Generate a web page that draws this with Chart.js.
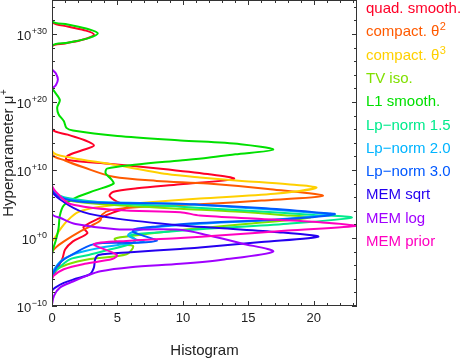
<!DOCTYPE html>
<html>
<head>
<meta charset="utf-8">
<script src="https://cdn.jsdelivr.net/npm/chart.js@4.4.1/dist/chart.umd.min.js"></script>
<style>
html, body { margin: 0; padding: 0; background: #fff; }
#wrap { width: 463px; height: 361px; position: relative; }
</style>
</head>
<body>
<div id="wrap"><canvas id="chartHist"></canvas></div>
<script>
// each point: [histogram count, log10(mu+)]
const seriesNames = ['quad. smooth.', 'compact. θ', 'compact. θ', 'TV iso.', 'L1 smooth.',
    'Lp−norm 1.5', 'Lp−norm 2.0', 'Lp−norm 3.0', 'MEM sqrt', 'MEM log', 'MEM prior'];
const seriesSups = ['', '2', '3', '', '', '', '', '', '', '', ''];
const seriesColors = ['#ff0028', '#ff5a00', '#ffd000', '#80e000', '#00e000',
    '#00eb8c', '#00b4ff', '#0058ff', '#2400f0', '#a000ff', '#ff00c0'];

const quadSmooth = [[0,35],[0,31.8],[1.2,31.1],[2.6,30.5],[3.2,29.9],[2.4,29.2],[1.0,28.6],[0,28.1],
    [0,16.1],[1.2,15.2],[2.6,14.3],[3.2,13.6],[2.3,12.9],[1.2,12.1],[1.1,11.5],[4.5,10.9],[8.3,10.2],
    [11.9,9.4],[13.9,8.7],[9.8,7.9],[6.5,7.3],[4.7,6.8],[4.4,6.2],[5.0,5.3],[5.8,4.6],[4.6,3.7],
    [3.5,2.8],[2.4,1.6],[2.7,0.7],[1.6,-0.5],[1.0,-1.7],[0.8,-3.0],[0.4,-4.5],[0,-6.0],[0,-10]];
const compact2 = [[0,35],[0,12.4],[1.0,11.4],[2.4,10.4],[4.7,9.0],[8,8.4],[11.9,8.0],[16.5,7.2],
    [20.7,6.2],[16,5.5],[11.6,5.0],[7,4.6],[4.5,4.1],[3.8,3.4],[3.7,2.6],[3.0,1.8],[2.0,0.8],
    [1.15,-0.2],[0.4,-1.2],[0.05,-1.9],[0,-2.3],[0,-10]];
const compact3 = [[0,35],[0,12.9],[1.5,11.8],[4.4,10.9],[8.8,9.4],[11.3,8.9],[14.5,8.4],[18,7.9],
    [20.2,7.4],[17,6.5],[11.3,5.8],[7,5.2],[3.7,4.6],[2.0,3.8],[1.2,2.6],[0.6,1.2],[0.2,0],
    [0,-0.6],[0,-10]];
const tvIso = [[0,35],[0,7.0],[0.6,6.0],[1.6,5.4],[5,4.8],[9.8,4.3],[14,3.9],[17.5,3.4],[19.7,3.0],
    [15,2.1],[10,1.2],[6.5,0.4],[4.8,-0.1],[5.2,-0.9],[6.2,-1.2],[5.7,-2.4],[2.9,-3.1],[1.15,-3.9],
    [0.1,-4.9],[0,-5.5],[0,-10]];
const l1Smooth = [[0,35],[0,31.9],[1.2,31.4],[2.8,30.7],[3.5,30.1],[2.8,29.4],[1.2,28.7],[0,28.2],
    [0,22.2],[0.2,21.5],[0.6,20.3],[0.4,19.2],[0.5,18.2],[0.9,17.2],[1.1,16.2],[1.6,15.8],[5,15.0],
    [9.8,14.35],[14.4,13.8],[16.9,13.0],[14,12.3],[11.9,11.8],[9.8,11.4],[6.5,10.8],[4.2,10.2],
    [4.1,9.5],[4.5,8.7],[4.7,8.0],[3.3,7.0],[1.9,6.0],[0.9,4.8],[0.6,3.3],[0.5,1.4],[0.3,-0.3],
    [0.1,-1.5],[0,-2.5],[0,-10]];
const lp15 = [[0,35],[0,7.1],[0.5,6.3],[1.4,5.8],[4,5.2],[9.8,4.6],[15,4.0],[20,3.4],[22.9,3.0],
    [18,2.1],[11.3,1.3],[8,0.8],[6,0.4],[6.4,-0.3],[5.8,-1.0],[4.4,-1.7],[2.8,-2.5],[1.4,-3.1],
    [0.4,-4.6],[0,-5.6],[0,-10]];
const lp20 = [[0,35],[0,7.2],[0.6,6.1],[2.4,5.4],[9.8,5.0],[15,4.4],[19.5,3.8],[21.3,3.5],[17,2.7],
    [11.3,2.1],[8,1.6],[6.5,1.1],[5.8,0.4],[6.4,-0.2],[7.0,-0.5],[5.5,-0.9],[3.5,-1.5],[1.8,-2.3],
    [0.8,-3.2],[0.2,-4.5],[0,-5.5],[0,-10]];
const lp30 = [[0,35],[0,7.3],[0.63,6.0],[2.4,5.3],[9.8,5.05],[11.3,4.9],[16,4.4],[20,3.8],[21.6,3.5],
    [18,2.8],[11.3,2.2],[8,1.7],[6.3,1.3],[6.2,0.9],[7.2,0.2],[8.0,-0.4],[6.5,-0.7],[3.2,-0.9],
    [1.4,-2.6],[0.63,-3.6],[0.1,-5.1],[0,-6.0],[0,-10]];
const memSqrt = [[0,35],[0,7.0],[0.9,5.3],[2.4,3.8],[4.95,2.85],[9.8,1.85],[12.5,1.5],[17,0.9],
    [20.35,0.2],[16,-0.6],[11.3,-1.4],[9.8,-1.6],[6,-2.1],[3.56,-2.5],[3.3,-3.1],[3.2,-4.35],
    [2.9,-5.3],[1.8,-6.0],[0.9,-6.6],[0.25,-7.3],[0,-7.8],[0,-10]];
const memLog = [[0,35],[0,24.9],[0.3,24.2],[0.45,23.3],[0.3,22.5],[0,21.8],[0,3.6],[0.7,2.9],
    [1.8,2.05],[4.9,1.3],[9.8,1.2],[11.9,0.4],[14.5,-0.8],[16.9,-2.0],[13,-3.2],[9.8,-3.8],
    [6,-4.3],[3.7,-4.9],[2.6,-5.6],[1.6,-6.4],[0.6,-7.3],[0.15,-8.5],[0,-9.8],[0,-10]];
const memPrior = [[0,35],[0,7.8],[0.6,6.2],[1.4,5.0],[4.95,4.1],[9.8,3.8],[11.3,3.3],[16,2.8],
    [20.5,2.3],[23.3,1.8],[18,1.1],[13,0.4],[9.8,0.0],[6,-0.4],[3.2,-0.9],[4.96,-2.5],[4.6,-3.1],
    [2.5,-3.8],[0.9,-4.6],[0.1,-5.6],[0,-6.2],[0,-10]];

const allSeries = [quadSmooth, compact2, compact3, tvIso, l1Smooth, lp15, lp20, lp30, memSqrt, memLog, memPrior];

const xMin = 0, xMax = 23.3;
const yMin = -10, yMax = 35;
const xTickValues = [0, 5, 10, 15, 20];
const xTickLabels = ['0', '5', '10', '15', '20'];
const yTickExps = [-10, 0, 10, 20, 30];
const yTickBase = '10';
const yTickSups = ['−10', '+0', '+10', '+20', '+30'];

const fontFam = '"Liberation Sans", Arial, Helvetica, sans-serif';
const textColor = '#222';

// text with a raised exponent; x is the left edge
function drawSup(ctx, base, sup, x, y, baseSize, supSize, rise) {
    ctx.font = baseSize + 'px ' + fontFam;
    ctx.fillText(base, x, y);
    const w = ctx.measureText(base).width;
    if (sup) {
        ctx.font = supSize + 'px ' + fontFam;
        ctx.fillText(sup, x + w + 0.5, y - rise);
    }
}
function supWidth(ctx, base, sup, baseSize, supSize) {
    ctx.font = baseSize + 'px ' + fontFam;
    let w = ctx.measureText(base).width;
    if (sup) {
        ctx.font = supSize + 'px ' + fontFam;
        w += ctx.measureText(sup).width + 0.5;
    }
    return w;
}

// frame, inward ticks, y labels, y title and coloured legend text
const frameTicks = {
    id: 'frameTicks',
    afterDatasetsDraw(chart) {
        const { ctx, chartArea: a, scales } = chart;
        const x = scales.x, y = scales.y;
        ctx.save();
        ctx.strokeStyle = '#333';
        ctx.lineWidth = 1;
        ctx.beginPath();
        for (let v = 0; v <= 23; v++) {
            const px = Math.round(x.getPixelForValue(v)) + 0.5;
            const len = v % 5 === 0 ? 5 : 3;
            ctx.moveTo(px, a.bottom); ctx.lineTo(px, a.bottom - len);
            ctx.moveTo(px, a.top); ctx.lineTo(px, a.top + len);
        }
        for (let e = -10; e <= 34; e += 2) {
            const py = Math.round(y.getPixelForValue(e)) + 0.5;
            const len = e % 10 === 0 ? 5 : 3;
            ctx.moveTo(a.left, py); ctx.lineTo(a.left + len, py);
            ctx.moveTo(a.right, py); ctx.lineTo(a.right - len, py);
        }
        ctx.stroke();
        ctx.strokeRect(a.left + 0.5, a.top + 0.5, a.right - a.left - 1, a.bottom - a.top - 1);

        ctx.textBaseline = 'alphabetic';
        ctx.textAlign = 'left';
        ctx.fillStyle = textColor;
        yTickExps.forEach(function (e, i) {
            const py = y.getPixelForValue(e);
            const w = supWidth(ctx, yTickBase, yTickSups[i], 13, 9);
            drawSup(ctx, yTickBase, yTickSups[i], a.left - 5 - w, py + 5.5, 13, 9, 6);
        });

        // y title, rotated
        ctx.save();
        ctx.translate(13, (a.top + a.bottom) / 2);
        ctx.rotate(-Math.PI / 2);
        const tw = supWidth(ctx, 'Hyperparameter μ', '+', 15, 10);
        drawSup(ctx, 'Hyperparameter μ', '+', -tw / 2, 0, 15, 10, 6);
        ctx.restore();

        seriesNames.forEach(function (name, i) {
            ctx.fillStyle = seriesColors[i];
            drawSup(ctx, name, seriesSups[i], a.right + 9, 8 + i * 23.3 + 5, 15, 11, 6);
        });
        ctx.restore();
    }
};

const chartHist = new Chart(document.getElementById('chartHist'), {
    type: 'scatter',
    data: {
        datasets: allSeries.map(function (pts, i) {
            return {
                label: seriesNames[i] + seriesSups[i],
                data: pts.map(function (p) { return { x: p[0], y: p[1] }; }),
                showLine: true,
                borderColor: seriesColors[i],
                backgroundColor: seriesColors[i],
                borderWidth: 2,
                pointRadius: 0,
                tension: 0.3,
                fill: false,
                order: allSeries.length - i
            };
        })
    },
    options: {
        responsive: true,
        maintainAspectRatio: false,
        animation: false,
        layout: { padding: { top: 0, right: 106, left: 0, bottom: 0 } },
        plugins: {
            legend: { display: false },
            tooltip: { enabled: false }
        },
        scales: {
            x: {
                type: 'linear',
                min: xMin,
                max: xMax,
                grid: { display: false },
                border: { display: false },
                afterFit: function (s) { s.height = 55; },
                ticks: {
                    stepSize: 1,
                    autoSkip: false,
                    maxRotation: 0,
                    minRotation: 0,
                    padding: -3,
                    color: textColor,
                    font: { family: fontFam, size: 13 },
                    callback: function (v) {
                        const k = xTickValues.indexOf(v);
                        return k >= 0 ? xTickLabels[k] : '';
                    }
                },
                title: {
                    display: true,
                    text: 'Histogram',
                    color: textColor,
                    font: { family: fontFam, size: 15 },
                    padding: { top: 0, bottom: 1 }
                }
            },
            y: {
                type: 'linear',
                min: yMin,
                max: yMax,
                grid: { display: false },
                border: { display: false },
                afterFit: function (s) { s.width = 52; },
                ticks: {
                    display: false,
                    stepSize: 2,
                    autoSkip: false
                },
                title: { display: false }
            }
        }
    },
    plugins: [frameTicks]
});
</script>
</body>
</html>
